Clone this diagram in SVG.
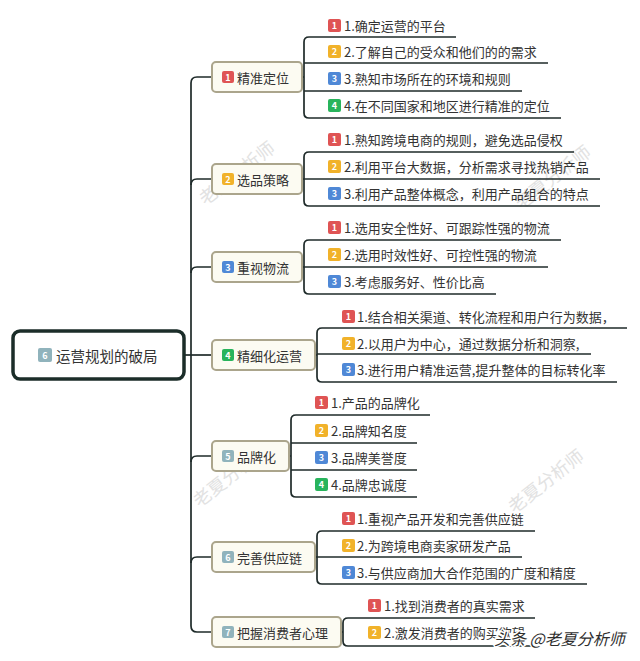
<svg xmlns="http://www.w3.org/2000/svg" width="640" height="661" viewBox="0 0 640 661">
<style>
text{font-family:"Noto Sans CJK SC","Noto Sans",sans-serif;fill:#333;dominant-baseline:central}
.leaf{font-size:13px}
.br{font-size:13px}
.root{font-size:14.5px}
.num{font-size:9px;fill:#fff;text-anchor:middle;font-weight:bold}
.node{fill:#fcfbf2;stroke:#aba58c;stroke-width:2}
.line{fill:none;stroke:#1f2b2a;stroke-width:1.7}
.i1{fill:#df5454}.i2{fill:#f1b22a}.i3{fill:#4f88d6}.i4{fill:#28b45c}.ig{fill:#90b3bc}
.wm{font-size:18px;fill:#e2e2e2}
.wm2{font-size:16px;fill:#2e2e2e;stroke:#fff;stroke-width:3;paint-order:stroke;font-style:italic}
</style>
<rect width="640" height="661" fill="#fff"/>
<g id="watermarks">
<text class="wm" x="236" y="172" text-anchor="middle" transform="rotate(-38 236 172)">老夏分析师</text>
<text class="wm" x="552" y="176" text-anchor="middle" transform="rotate(-38 552 176)">老夏分析师</text>
<text class="wm" x="230" y="474" text-anchor="middle" transform="rotate(-38 230 474)">老夏分析师</text>
<text class="wm" x="545" y="480" text-anchor="middle" transform="rotate(-38 545 480)">老夏分析师</text>
</g>
<g id="connectors">
<path class="line" d="M184,355 L212,355"/>
<path class="line" d="M212,77 L197,77 Q191,77 191,83 L191,626 Q191,632 197,632 L212,632"/>
<path class="line" d="M191,185 Q191,179 197,179 L212,179"/>
<path class="line" d="M191,273 Q191,267 197,267 L212,267"/>
<path class="line" d="M191,462 Q191,456 197,456 L212,456"/>
<path class="line" d="M191,563 Q191,557 197,557 L212,557"/>
<!-- group 1 -->
<path class="line" d="M302,77 L304,77"/>
<path class="line" d="M456,37 L309,37 Q304,37 304,42 L304,113 Q304,118 309,118 L561,118"/>
<path class="line" d="M304,63 L548,63 M304,91 L522,91"/>
<!-- group 2 -->
<path class="line" d="M302,179 L304,179"/>
<path class="line" d="M574,152 L309,152 Q304,152 304,157 L304,201 Q304,206 309,206 L600,206"/>
<path class="line" d="M304,179 L600,179"/>
<!-- group 3 -->
<path class="line" d="M302,267 L304,267"/>
<path class="line" d="M561,240 L309,240 Q304,240 304,245 L304,289 Q304,294 309,294 L496,294"/>
<path class="line" d="M304,267 L548,267"/>
<!-- group 4 -->
<path class="line" d="M315,355 L317,355"/>
<path class="line" d="M627,328 L322,328 Q317,328 317,333 L317,377 Q317,382 322,382 L617,382"/>
<path class="line" d="M317,354 L591,354"/>
<!-- group 5 -->
<path class="line" d="M289,456 L291,456"/>
<path class="line" d="M430,415 L296,415 Q291,415 291,420 L291,492 Q291,497 296,497 L417,497"/>
<path class="line" d="M291,443 L417,443 M291,470 L417,470"/>
<!-- group 6 -->
<path class="line" d="M315,557 L317,557"/>
<path class="line" d="M535,531 L322,531 Q317,531 317,536 L317,579 Q317,584 322,584 L587,584"/>
<path class="line" d="M317,557 L522,557"/>
<!-- group 7 -->
<path class="line" d="M341,632 L343,632"/>
<path class="line" d="M535,618 L348,618 Q343,618 343,623 L343,641 Q343,646 348,646 L535,646"/>
</g>
<g id="root">
<rect x="13" y="331" width="171" height="48" rx="7" fill="#fff" stroke="#1b2d29" stroke-width="3.5"/>
<rect class="ig" x="38" y="348" width="14" height="14" rx="2"/><text class="num" x="45" y="355">6</text>
<text class="root" x="56" y="355">运营规划的破局</text>
</g>
<g id="b1">
<rect class="node" x="212" y="62" width="90" height="30" rx="4"/>
<rect class="i1" x="222" y="71" width="12" height="12" rx="2"/><text class="num" x="228" y="77">1</text>
<text class="br" x="237" y="77">精准定位</text>
</g>
<g id="b2">
<rect class="node" x="212" y="164" width="90" height="30" rx="4"/>
<rect class="i2" x="222" y="173" width="12" height="12" rx="2"/><text class="num" x="228" y="179">2</text>
<text class="br" x="237" y="179">选品策略</text>
</g>
<g id="b3">
<rect class="node" x="212" y="252" width="90" height="30" rx="4"/>
<rect class="i3" x="222" y="261" width="12" height="12" rx="2"/><text class="num" x="228" y="267">3</text>
<text class="br" x="237" y="267">重视物流</text>
</g>
<g id="b4">
<rect class="node" x="212" y="340" width="103" height="30" rx="4"/>
<rect class="i4" x="222" y="349" width="12" height="12" rx="2"/><text class="num" x="228" y="355">4</text>
<text class="br" x="237" y="355">精细化运营</text>
</g>
<g id="b5">
<rect class="node" x="212" y="441" width="77" height="30" rx="4"/>
<rect class="ig" x="222" y="450" width="12" height="12" rx="2"/><text class="num" x="228" y="456">5</text>
<text class="br" x="237" y="456">品牌化</text>
</g>
<g id="b6">
<rect class="node" x="212" y="542" width="103" height="30" rx="4"/>
<rect class="ig" x="222" y="551" width="12" height="12" rx="2"/><text class="num" x="228" y="557">6</text>
<text class="br" x="237" y="557">完善供应链</text>
</g>
<g id="b7">
<rect class="node" x="212" y="617" width="129" height="30" rx="4"/>
<rect class="ig" x="222" y="626" width="12" height="12" rx="2"/><text class="num" x="228" y="632">7</text>
<text class="br" x="237" y="632">把握消费者心理</text>
</g>
<g id="leaves1">
<rect class="i1" x="328" y="19" width="13" height="13" rx="2"/><text class="num" x="334.5" y="25.5">1</text><text class="leaf" x="344" y="25">1.确定运营的平台</text>
<rect class="i2" x="328" y="45" width="13" height="13" rx="2"/><text class="num" x="334.5" y="51.5">2</text><text class="leaf" x="344" y="51">2.了解自己的受众和他们的的需求</text>
<rect class="i3" x="328" y="72" width="13" height="13" rx="2"/><text class="num" x="334.5" y="78.5">3</text><text class="leaf" x="344" y="78">3.熟知市场所在的环境和规则</text>
<rect class="i4" x="328" y="99" width="13" height="13" rx="2"/><text class="num" x="334.5" y="105.5">4</text><text class="leaf" x="344" y="105">4.在不同国家和地区进行精准的定位</text>
</g>
<g id="leaves2">
<rect class="i1" x="328" y="133" width="13" height="13" rx="2"/><text class="num" x="334.5" y="139.5">1</text><text class="leaf" x="344" y="139">1.熟知跨境电商的规则，避免选品侵权</text>
<rect class="i2" x="328" y="160" width="13" height="13" rx="2"/><text class="num" x="334.5" y="166.5">2</text><text class="leaf" x="344" y="166">2.利用平台大数据，分析需求寻找热销产品</text>
<rect class="i3" x="328" y="187" width="13" height="13" rx="2"/><text class="num" x="334.5" y="193.5">3</text><text class="leaf" x="344" y="193">3.利用产品整体概念，利用产品组合的特点</text>
</g>
<g id="leaves3">
<rect class="i1" x="328" y="221" width="13" height="13" rx="2"/><text class="num" x="334.5" y="227.5">1</text><text class="leaf" x="344" y="227">1.选用安全性好、可跟踪性强的物流</text>
<rect class="i2" x="328" y="248" width="13" height="13" rx="2"/><text class="num" x="334.5" y="254.5">2</text><text class="leaf" x="344" y="254">2.选用时效性好、可控性强的物流</text>
<rect class="i3" x="328" y="275" width="13" height="13" rx="2"/><text class="num" x="334.5" y="281.5">3</text><text class="leaf" x="344" y="281">3.考虑服务好、性价比高</text>
</g>
<g id="leaves4">
<rect class="i1" x="342" y="310" width="13" height="13" rx="2"/><text class="num" x="348.5" y="316.5">1</text><text class="leaf" x="357" y="316">1.结合相关渠道、转化流程和用户行为数据，</text>
<rect class="i2" x="342" y="337" width="13" height="13" rx="2"/><text class="num" x="348.5" y="343.5">2</text><text class="leaf" x="357" y="343">2.以用户为中心，通过数据分析和洞察,</text>
<rect class="i3" x="342" y="363" width="13" height="13" rx="2"/><text class="num" x="348.5" y="369.5">3</text><text class="leaf" x="357" y="369">3.进行用户精准运营,提升整体的目标转化率</text>
</g>
<g id="leaves5">
<rect class="i1" x="315" y="396" width="13" height="13" rx="2"/><text class="num" x="321.5" y="402.5">1</text><text class="leaf" x="331" y="402">1.产品的品牌化</text>
<rect class="i2" x="315" y="424" width="13" height="13" rx="2"/><text class="num" x="321.5" y="430.5">2</text><text class="leaf" x="331" y="430">2.品牌知名度</text>
<rect class="i3" x="315" y="451" width="13" height="13" rx="2"/><text class="num" x="321.5" y="457.5">3</text><text class="leaf" x="331" y="457">3.品牌美誉度</text>
<rect class="i4" x="315" y="478" width="13" height="13" rx="2"/><text class="num" x="321.5" y="484.5">4</text><text class="leaf" x="331" y="484">4.品牌忠诚度</text>
</g>
<g id="leaves6">
<rect class="i1" x="342" y="512" width="13" height="13" rx="2"/><text class="num" x="348.5" y="518.5">1</text><text class="leaf" x="357" y="518">1.重视产品开发和完善供应链</text>
<rect class="i2" x="342" y="539" width="13" height="13" rx="2"/><text class="num" x="348.5" y="545.5">2</text><text class="leaf" x="357" y="545">2.为跨境电商卖家研发产品</text>
<rect class="i3" x="342" y="566" width="13" height="13" rx="2"/><text class="num" x="348.5" y="572.5">3</text><text class="leaf" x="357" y="572">3.与供应商加大合作范围的广度和精度</text>
</g>
<g id="leaves7">
<rect class="i1" x="368" y="599" width="13" height="13" rx="2"/><text class="num" x="374.5" y="605.5">1</text><text class="leaf" x="384" y="605">1.找到消费者的真实需求</text>
<rect class="i2" x="368" y="626" width="13" height="13" rx="2"/><text class="num" x="374.5" y="632.5">2</text><text class="leaf" x="384" y="632">2.激发消费者的购买欲望</text>
</g>
<text class="wm2" x="494" y="638">头条 @老夏分析师</text>
</svg>
